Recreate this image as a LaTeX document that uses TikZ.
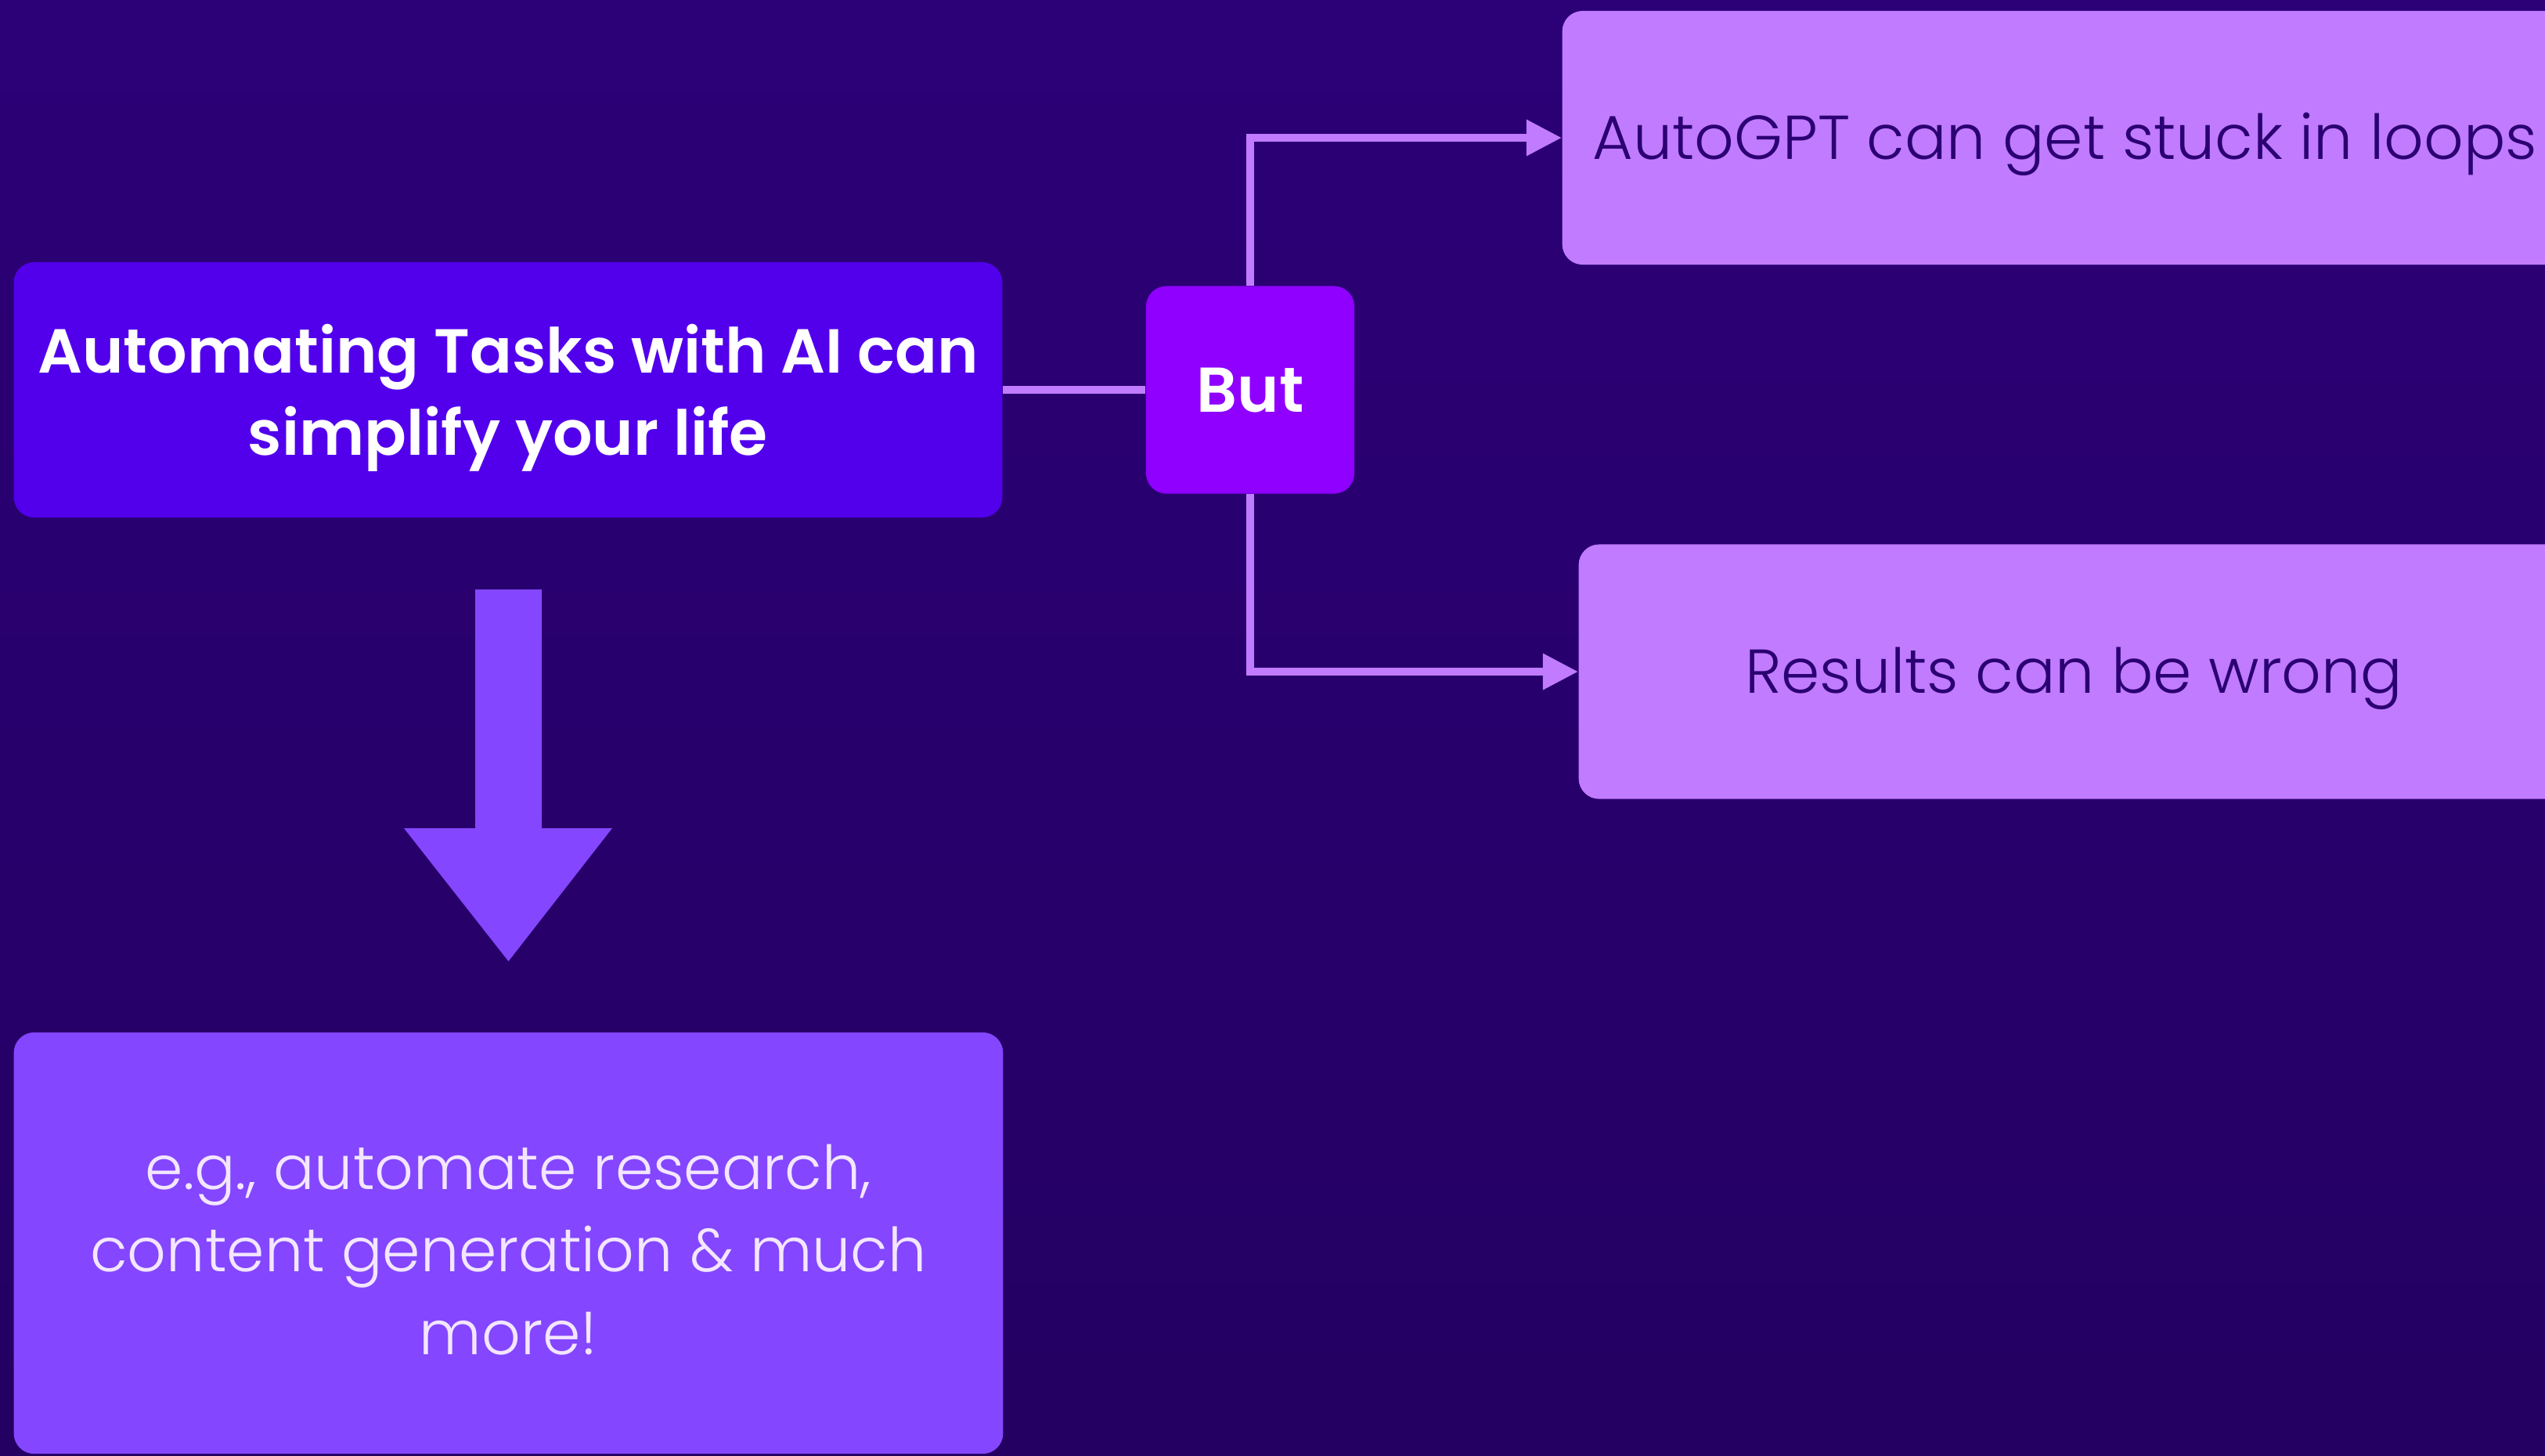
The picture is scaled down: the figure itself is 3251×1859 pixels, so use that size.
\documentclass[tikz,border=0pt]{standalone}
\usepackage{fontspec}
\setmainfont{Poppins}
\newfontfamily\thinfont{Poppins Light}
\newfontfamily\heavyfont{Poppins SemiBold}
\usetikzlibrary{arrows.meta}
\definecolor{bgtop}{HTML}{2C0077}
\definecolor{bgbot}{HTML}{240062}
\definecolor{indigo}{HTML}{5200EC}
\definecolor{violet}{HTML}{8F00FF}
\definecolor{lilac}{HTML}{C17BFF}
\definecolor{grape}{HTML}{8446FF}
\definecolor{ink}{HTML}{2B0072}
\definecolor{mist}{HTML}{F3E6FF}
\begin{document}
\begin{tikzpicture}[x=0.01cm, y=-0.01cm,
  box/.style={rectangle, rounded corners=0.26cm, inner sep=0pt, align=center},
  oneline/.style={text height=15.8pt, text depth=0pt},
  link/.style={draw=lilac, line width=2.8pt},
  tip/.style={-{Triangle[length=12.8pt, width=12.5pt]}}]
\useasboundingbox (0,0) rectangle (3251,1859);
\shade[top color=bgtop, bottom color=bgbot] (0,0) rectangle (3251,1859);

\node[box, fill=indigo, text=white, minimum width=12.62cm, minimum height=3.26cm,
  text depth=0pt, font=\heavyfont\fontsize{22.6}{30}\selectfont] (goal) at (649,498)
{Automating Tasks with AI can\\simplify your life};
\node[box, oneline, fill=violet, text=white, minimum width=2.66cm, minimum height=2.65cm,
  text height=16pt, font=\heavyfont\fontsize{23}{30}\selectfont] (but) at (1597,498)
{But};
\node[box, oneline, fill=lilac, text=ink, minimum width=12.84cm, minimum height=3.24cm,
  font=\thinfont\fontsize{22.5}{30}\selectfont] (loops) at (2638,176)
{AutoGPT can get stuck in loops};
\node[box, oneline, fill=lilac, text=ink, minimum width=12.64cm, minimum height=3.25cm,
  font=\thinfont\fontsize{22.5}{30}\selectfont] (wrong) at (2649,858)
{Results can be wrong};
\node[box, fill=grape, text=mist, minimum width=12.63cm, minimum height=5.38cm,
  text height=81pt, text depth=0pt, font=\thinfont\fontsize{22.1}{30}\selectfont] (example) at (649.5,1588)
{e.g., automate research,\\content generation \& much\\more!};

% big arrow down to the example box
\fill[grape] (607,753) -- (692,753) -- (692,1058) -- (782,1058) -- (649.5,1228)
  -- (516,1058) -- (607,1058) -- cycle;

\draw[link] (goal.east) -- (but.west);
\draw[link, tip] (but.north) |- (loops.west);
\draw[link, tip] (but.south) |- (wrong.west);
\end{tikzpicture}
\end{document}
